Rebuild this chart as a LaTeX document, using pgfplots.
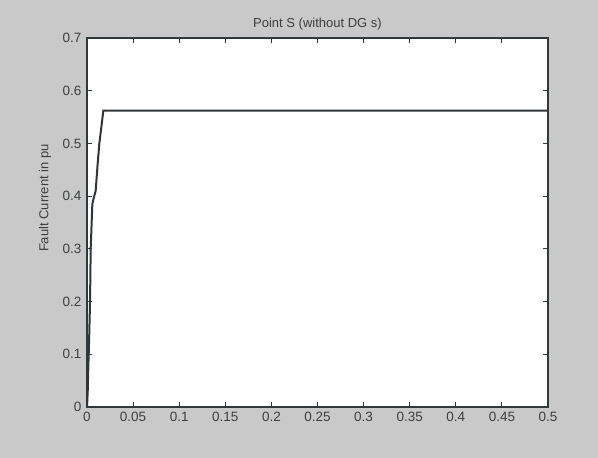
\documentclass[border=0pt]{standalone}
\usepackage{pgfplots}
\pgfplotsset{compat=1.18}
\usepackage{fontspec}
\setmainfont{Liberation Sans}
\definecolor{bgc}{RGB}{201,201,201}
\definecolor{axisc}{RGB}{50,55,58}
\definecolor{tickc}{RGB}{60,62,64}
\definecolor{curvec}{RGB}{50,53,55}
\begin{document}
\begin{tikzpicture}
\fill[bgc] (0,0) rectangle (598pt,458pt);
\begin{axis}[
  at={(87pt,51pt)}, anchor=south west,
  scale only axis, width=461pt, height=369pt,
  xmin=0, xmax=0.5, ymin=0, ymax=0.7,
  xtick={0,0.05,0.1,0.15,0.2,0.25,0.3,0.35,0.4,0.45,0.5},
  ytick={0,0.1,0.2,0.3,0.4,0.5,0.6,0.7},
  xticklabels={0,0.05,0.1,0.15,0.2,0.25,0.3,0.35,0.4,0.45,0.5},
  yticklabels={0,0.1,0.2,0.3,0.4,0.5,0.6,0.7},
  tick align=inside, major tick length=5pt,
  axis line style={axisc, line width=1.5pt},
  tick style={axisc, line width=0.9pt},
  axis background/.style={fill=white},
  ticklabel style={font=\fontsize{13.5}{15}\selectfont, text=tickc},
  xticklabel style={yshift=-2pt},
  yticklabel style={xshift=-2pt},
  /pgf/number format/assume math mode=true,
  title={Point S (without DG s)},
  title style={font=\fontsize{13}{15}\selectfont, text=tickc, at={(0.5,1)}, anchor=center, yshift=8pt},
  ylabel={Fault Current in pu},
  ylabel style={font=\fontsize{13}{15}\selectfont, text=tickc, at={(axis description cs:-0.091,0.566)}, anchor=center, rotate=0},
]
\addplot[curvec, line width=2pt] coordinates {
(0,0) (0.0008,0.03) (0.0015,0.08) (0.0022,0.12) (0.0033,0.20) (0.0040,0.30)
(0.0058,0.385) (0.0075,0.398) (0.0094,0.41) (0.0115,0.46) (0.0134,0.50)
(0.0155,0.53) (0.0177,0.562) (0.5,0.562)
};
\end{axis}
\end{tikzpicture}
\end{document}
